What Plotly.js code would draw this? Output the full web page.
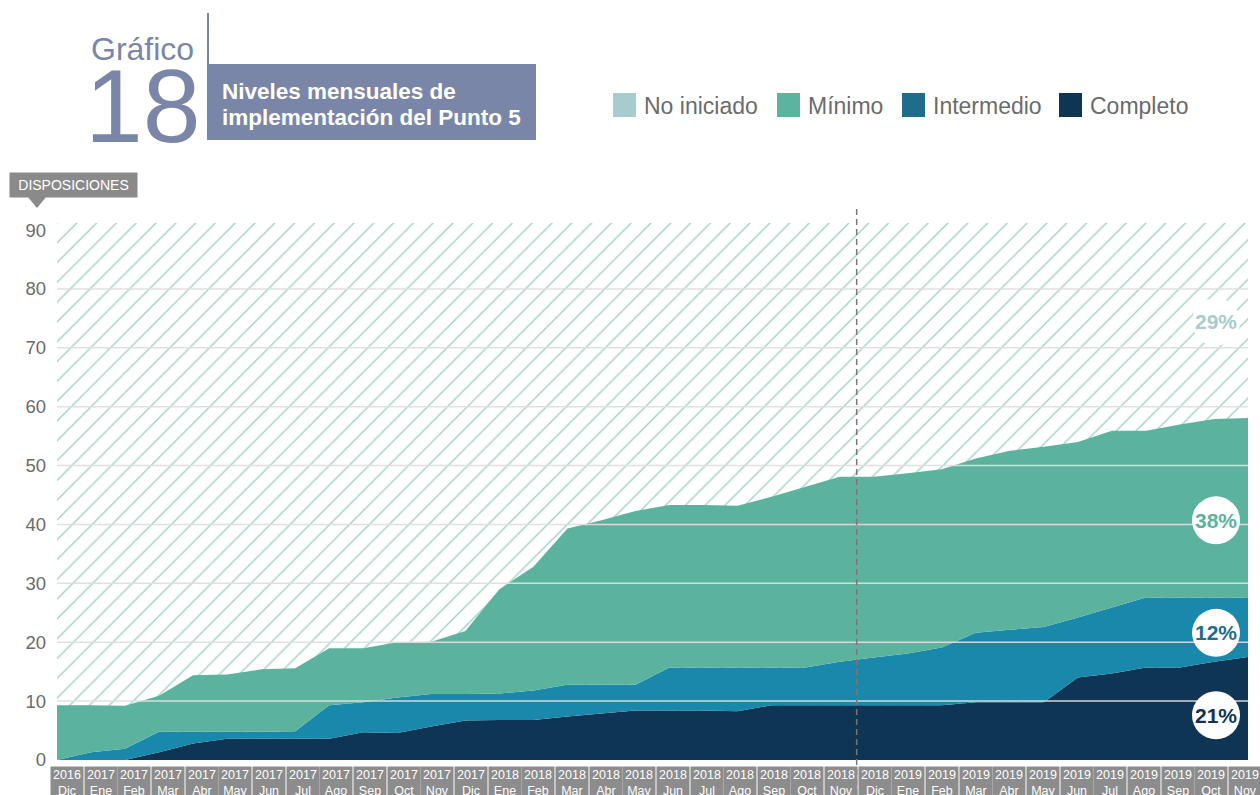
<!DOCTYPE html>
<html>
<head>
<meta charset="utf-8">
<script src="https://cdn.plot.ly/plotly-3.0.1.min.js"></script>
<style>html,body{margin:0;padding:0;background:#fff;}#chart{width:1260px;height:795px;}</style>
</head>
<body>
<div id="chart"></div>
<script>
// ---- Data ----
const anios = ['2016','2017','2017','2017','2017','2017','2017','2017','2017','2017','2017','2017',
               '2017','2018','2018','2018','2018','2018','2018','2018','2018','2018','2018','2018',
               '2018','2019','2019','2019','2019','2019','2019','2019','2019','2019','2019','2019'];
const meses = ['Dic','Ene','Feb','Mar','Abr','May','Jun','Jul','Ago','Sep','Oct','Nov',
               'Dic','Ene','Feb','Mar','Abr','May','Jun','Jul','Ago','Sep','Oct','Nov',
               'Dic','Ene','Feb','Mar','Abr','May','Jun','Jul','Ago','Sep','Oct','Nov'];
const completo   = [0,0,0,1.3,2.8,3.6,3.6,3.6,3.6,4.7,4.6,5.7,6.7,6.8,6.8,7.4,7.9,8.4,8.4,8.4,8.3,9.3,9.3,9.3,9.3,9.3,9.3,9.8,9.8,9.8,14.0,14.7,15.7,15.7,16.7,17.5];
const intermedio = [0,1.3,1.9,3.5,2.0,1.2,1.2,1.3,5.7,5.1,6.0,5.5,4.5,4.5,5.0,5.4,4.9,4.4,7.3,7.3,7.4,6.4,6.4,7.4,8.1,8.8,9.8,11.8,12.3,12.8,10.2,11.2,11.9,11.9,10.9,10.1];
const minimo     = [9.3,8.0,7.3,6.1,9.6,9.7,10.6,10.7,9.7,9.2,9.4,8.9,10.7,17.7,21.0,26.5,27.9,29.5,27.6,27.6,27.5,29.0,30.7,31.4,30.7,30.6,30.3,29.6,30.4,30.6,29.8,30.0,28.3,29.4,30.3,30.5];
const niveles    = ['No iniciado','Mínimo','Intermedio','Completo'];
const porcentajes = ['29%','38%','12%','21%'];
const posPorcentaje = [74.4, 40.7, 21.6, 7.6];
const yTicks = [0,10,20,30,40,50,60,70,80,90];
const corteMes = 23.5; // between 2018 Nov and 2018 Dic
const tituloLineas = ['Niveles mensuales de','implementación del Punto 5'];

const periodos = anios.map((a,i)=>a+' '+meses[i]);
const Y_MAX = 91.2;

// ---- Styles ----
const colArea = {'Completo':'#0f3554','Intermedio':'#1a88ab','Mínimo':'#5bb39e'};
const colSwatch = ['#a8cbcf','#5cb39e','#1f6c8c','#0f3554'];
const colPct = ['#a8cbcf','#5bb39e','#1f6c8c','#0f3554'];
const FONT = 'Liberation Sans, Arial, sans-serif';
const GRAY = '#6b6b6b';
const TITLE_C = '#7a86a8';

// pixel helpers for plot area (left 57, right 1248, top 223, bottom 760)
const L=57, R=1248, T=223, B=760;
const px2x = px => (px-L)/(R-L);
const py2y = py => (B-py)/(B-T);

const traces = [
  {x: periodos, y: periodos.map(()=>Y_MAX), type:'scatter', mode:'none', fill:'tozeroy',
   fillcolor:'#ffffff', fillpattern:{shape:'/', size:14, solidity:0.1, fgcolor:'#9fd4c1', bgcolor:'#ffffff'},
   name:'No iniciado', hoverinfo:'skip', showlegend:false},
  {x: periodos, y: completo, type:'scatter', mode:'none', stackgroup:'s', fillcolor:colArea['Completo'], name:'Completo', showlegend:false},
  {x: periodos, y: intermedio, type:'scatter', mode:'none', stackgroup:'s', fillcolor:colArea['Intermedio'], name:'Intermedio', showlegend:false},
  {x: periodos, y: minimo, type:'scatter', mode:'none', stackgroup:'s', fillcolor:colArea['Mínimo'], name:'Mínimo', showlegend:false}
];

const shapes = [];
const annotations = [];

// gridlines above traces
yTicks.filter(v=>v>0 && v<90).forEach(v=>{
  shapes.push({type:'line', xref:'paper', x0:0, x1:1, yref:'y', y0:v, y1:v, layer:'above',
    line:{color:'rgba(222,222,222,0.95)', width:1.5}});
});

// dashed vertical separator
shapes.push({type:'line', xref:'x', x0:corteMes, x1:corteMes, yref:'paper', y0:py2y(795), y1:py2y(208),
  layer:'above', line:{color:'#777777', width:1.5, dash:'6px,4px'}});

// x category labels (grey boxes)
periodos.forEach((p,i)=>{
  annotations.push({x:i, xref:'x', y:py2y(766), yref:'paper', yanchor:'top', xanchor:'center',
    xshift: 10 - 0.37*i,
    text: anios[i]+'<br>'+meses[i], showarrow:false, align:'center', valign:'top',
    font:{family:FONT, size:12.5, color:'#ffffff'}, bgcolor:'#8c8c8c', width:30, height:40, borderpad:1});
});

// percentage labels with white circles
porcentajes.forEach((t,k)=>{
  shapes.push({type:'circle', xref:'paper', xsizemode:'pixel', xanchor:px2x(1216), x0:-24, x1:24,
    yref:'y', ysizemode:'pixel', yanchor:posPorcentaje[k], y0:-24, y1:24,
    fillcolor:'#ffffff', line:{width:0}, layer:'above'});
  annotations.push({xref:'paper', x:px2x(1216), yref:'y', y:posPorcentaje[k], text:'<b>'+t+'</b>',
    showarrow:false, xanchor:'center', yanchor:'middle', font:{family:FONT, size:21, color:colPct[k]}});
});

// legend (custom)
const legX = [613, 777, 902, 1059];
niveles.forEach((n,k)=>{
  shapes.push({type:'rect', xref:'paper', yref:'paper', x0:px2x(legX[k]), x1:px2x(legX[k]+23),
    y0:py2y(117), y1:py2y(93), fillcolor:colSwatch[k], line:{width:0}});
  annotations.push({xref:'paper', yref:'paper', x:px2x(legX[k]+29), y:py2y(106), xanchor:'left', yanchor:'middle',
    text:n, showarrow:false, font:{family:FONT, size:23, color:GRAY}});
});

// title block
shapes.push({type:'line', xref:'paper', yref:'paper', x0:px2x(208), x1:px2x(208), y0:py2y(13), y1:py2y(140),
  line:{color:TITLE_C, width:2}});
shapes.push({type:'rect', xref:'paper', yref:'paper', x0:px2x(208), x1:px2x(536), y0:py2y(140), y1:py2y(64),
  fillcolor:TITLE_C, line:{width:0}});
annotations.push({xref:'paper', yref:'paper', x:px2x(196), y:py2y(49), xanchor:'right', yanchor:'middle',
  text:'Gráfico', showarrow:false, font:{family:FONT, size:32, color:TITLE_C}});
annotations.push({xref:'paper', yref:'paper', x:px2x(203), y:py2y(106), xanchor:'right', yanchor:'middle',
  text:'18', showarrow:false, font:{family:FONT, size:104, color:TITLE_C}});
tituloLineas.forEach((t,k)=>{
  annotations.push({xref:'paper', yref:'paper', x:px2x(220), y:py2y(91 + 26*k), xanchor:'left', yanchor:'middle', align:'left',
    text:'<b>'+t+'</b>', showarrow:false, font:{family:FONT, size:22.5, color:'#ffffff'}});
});

// DISPOSICIONES tag
annotations.push({xref:'paper', yref:'paper', x:px2x(73.5), y:py2y(185), xanchor:'center', yanchor:'middle',
  text:'DISPOSICIONES', showarrow:false, font:{family:FONT, size:14, color:'#ffffff'},
  bgcolor:'#8a8a8a', width:121, height:18, borderpad:3});
shapes.push({type:'path', xref:'paper', yref:'paper',
  path:`M ${px2x(27)} ${py2y(196)} L ${px2x(47)} ${py2y(196)} L ${px2x(37)} ${py2y(208)} Z`,
  fillcolor:'#8a8a8a', line:{width:0}});

const layout = {
  width:1260, height:795,
  margin:{l:L, r:1260-R, t:T, b:795-B, pad:0},
  paper_bgcolor:'#ffffff', plot_bgcolor:'#ffffff',
  showlegend:false,
  font:{family:FONT, color:GRAY},
  xaxis:{type:'category', range:[0, periodos.length-1], showticklabels:false, showgrid:false,
    zeroline:false, showline:false, ticks:'', fixedrange:true},
  yaxis:{range:[0, Y_MAX], tickvals:yTicks, ticktext:yTicks.map(String), showgrid:false, zeroline:false,
    showline:false, ticks:'', ticklabelstandoff:10, tickfont:{family:FONT, size:18.5, color:GRAY}},
  shapes: shapes,
  annotations: annotations
};

Plotly.newPlot('chart', traces, layout, {displayModeBar:false, staticPlot:true});
</script>
</body>
</html>
